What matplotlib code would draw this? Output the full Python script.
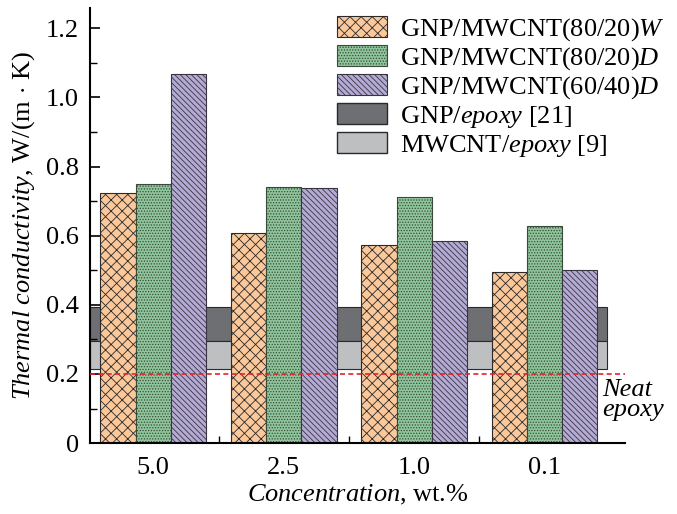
import numpy as np
import matplotlib
matplotlib.use("Agg")
import matplotlib.pyplot as plt
import matplotlib.patches as mpatches
from matplotlib.ticker import MultipleLocator

plt.rcParams["font.family"] = ["Liberation Serif", "DejaVu Serif"]
plt.rcParams["mathtext.fontset"] = "custom"
plt.rcParams["mathtext.rm"] = "Liberation Serif"
plt.rcParams["mathtext.it"] = "Liberation Serif:italic"
plt.rcParams["hatch.linewidth"] = 0.6

# data
concentrations = ["5.0", "2.5", "1.0", "0.1"]
w_80_20 = [0.723, 0.607, 0.572, 0.495]
d_80_20 = [0.749, 0.740, 0.711, 0.628]
d_60_40 = [1.069, 0.737, 0.584, 0.501]
gnp_epoxy = (0.296, 0.394)
mwcnt_epoxy = (0.213, 0.296)
neat_epoxy = 0.2
yticks = [0, 0.2, 0.4, 0.6, 0.8, 1.0, 1.2]
ytick_labels = ["0", "0.2", "0.4", "0.6", "0.8", "1.0", "1.2"]

fig = plt.figure(figsize=(6.77, 5.14), dpi=100)
ax = fig.add_axes([0.133, 0.138, 0.79, 0.846])

x = np.arange(len(concentrations))
w = 0.27

# reference bands behind the bars
ax.axhspan(*gnp_epoxy, xmin=0, xmax=0.966, facecolor="#6e6f73", edgecolor="#2a2a2a", lw=0.8, zorder=0)
ax.axhspan(*mwcnt_epoxy, xmin=0, xmax=0.966, facecolor="#bdbfc1", edgecolor="#2a2a2a", lw=0.8, zorder=0)

b1 = ax.bar(x - w, w_80_20, w, color="#fac89a", edgecolor="#2a2a2a", hatch="xxx", lw=0.8, zorder=2)
b2 = ax.bar(x, d_80_20, w, color="#8fc59b", edgecolor="#3a4a3a", hatch="......", lw=0.8, zorder=2)
b3 = ax.bar(x + w, d_60_40, w, color="#b4abd4", edgecolor="#3a3440", hatch="\\\\\\\\\\\\", lw=0.8, zorder=2)

ax.axhline(neat_epoxy, color="#e8202a", ls=(0, (3, 2)), lw=1.2, zorder=3)
ax.text(3.44, 0.125, "Neat\nepoxy", fontsize=19, style="italic", ha="left", va="center", linespacing=0.9)

ax.set_xlim(-0.485, 3.615)
ax.set_ylim(0, 1.258)
ax.set_xticks(x)
ax.set_xticklabels(concentrations)
ax.set_xticks(x[:-1] + 0.5, minor=True)
ax.set_yticks(yticks)
ax.set_yticklabels(ytick_labels)
ax.yaxis.set_minor_locator(MultipleLocator(0.1))
ax.tick_params(direction="in", length=7, width=1.2, labelsize=19)
ax.tick_params(which="minor", direction="in", length=5, width=1.0)
ax.tick_params(axis="x", pad=10)
ax.tick_params(axis="y", pad=8)
for s in ["top", "right"]:
    ax.spines[s].set_visible(False)
ax.spines["left"].set_linewidth(1.5)
ax.spines["bottom"].set_linewidth(1.5)

ax.set_ylabel(r"$\it{Thermal\ conductivity}$, W/(m$\,\cdot\,$K)", fontsize=19, labelpad=6)
ax.set_xlabel(r"$\it{Concentration}$, wt.%", fontsize=19, labelpad=3)

h4 = mpatches.Patch(facecolor="#6e6f73", edgecolor="#2a2a2a", lw=1)
h5 = mpatches.Patch(facecolor="#bdbfc1", edgecolor="#2a2a2a", lw=1)
labels = [r"GNP/MWCNT(80/20)$\it{W}$", r"GNP/MWCNT(80/20)$\it{D}$",
          r"GNP/MWCNT(60/40)$\it{D}$", r"GNP/$\it{epoxy}$ [21]", r"MWCNT/$\it{epoxy}$ [9]"]
fig.legend([b1, b2, b3, h4, h5], labels, loc="upper left", bbox_to_anchor=(0.482, 0.99),
           frameon=False, fontsize=19, handlelength=1.9, handleheight=0.85,
           labelspacing=0.08, handletextpad=0.5, borderaxespad=0)

fig.savefig("out.png", dpi=100)
